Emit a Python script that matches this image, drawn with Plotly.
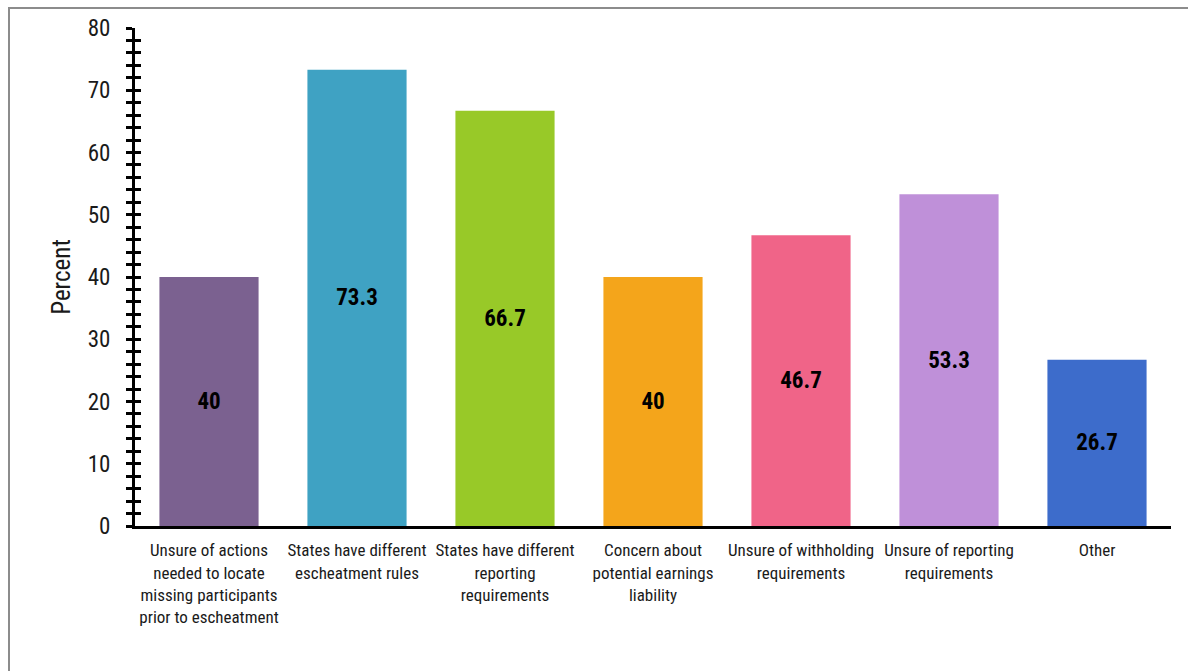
import plotly.graph_objects as go

categories = [
    "Unsure of actions<br>needed to locate<br>missing participants<br>prior to escheatment",
    "States have different<br>escheatment rules",
    "States have different<br>reporting<br>requirements",
    "Concern about<br>potential earnings<br>liability",
    "Unsure of withholding<br>requirements",
    "Unsure of reporting<br>requirements",
    "Other",
]
values = [40, 73.3, 66.7, 40, 46.7, 53.3, 26.7]
labels = ["40", "73.3", "66.7", "40", "46.7", "53.3", "26.7"]
colors = ["#7B6190", "#3FA2C3", "#98C928", "#F4A51B", "#F06488", "#BF90D9", "#3D6CCB"]
y_ticks = [0, 10, 20, 30, 40, 50, 60, 70, 80]

W, H = 1188, 671
ML, MR, MT, MB = 135, 17, 28, 145
PW, PH = W - ML - MR, H - MT - MB

font_main = "Roboto Condensed, Liberation Sans Narrow, Roboto, sans-serif"

fig = go.Figure()
fig.add_trace(go.Bar(
    x=categories, y=values, text=labels,
    marker=dict(color=colors, line=dict(width=0)),
    textposition="inside", insidetextanchor="middle", textangle=0,
    constraintext="none",
    textfont=dict(family=font_main, size=23, color="black", weight="bold"),
    hoverinfo="skip",
))
fig.add_trace(go.Scatter(x=[], y=[], yaxis="y2", showlegend=False))

def px_to_paper_x(px):
    return (px - ML) / PW

def px_to_paper_y(py):
    return (H - MB - py) / PH

fig.update_layout(
    width=W, height=H,
    margin=dict(l=ML, r=MR, t=MT, b=MB, pad=0, autoexpand=False),
    paper_bgcolor="white", plot_bgcolor="white",
    showlegend=False,
    bargap=0.33,
    font=dict(family=font_main, color="#1a1a1a"),
    xaxis=dict(
        showline=True, linecolor="black", linewidth=3,
        ticks="", showgrid=False, zeroline=False,
        tickangle=0, automargin=False,
        tickfont=dict(size=17, color="#1a1a1a"),
        ticklabelstandoff=7,
    ),
    yaxis=dict(
        range=[0, 80], tickvals=y_ticks, ticktext=[str(v) for v in y_ticks],
        showline=True, linecolor="black", linewidth=3,
        ticks="outside", ticklen=6, tickwidth=3, tickcolor="black",
        minor=dict(ticks="outside", dtick=2, ticklen=6, tickwidth=3, tickcolor="black"),
        showgrid=False, zeroline=False, automargin=False,
        tickfont=dict(size=23, color="#1a1a1a"),
        ticklabelstandoff=11,
        title=dict(text="Percent", font=dict(size=25, color="#1a1a1a"), standoff=10),
    ),
    yaxis2=dict(
        range=[0, 80], overlaying="y", side="left", anchor="x",
        tickvals=y_ticks, showticklabels=False, showline=False,
        ticks="inside", ticklen=6, tickwidth=3, tickcolor="black",
        minor=dict(ticks="inside", dtick=2, ticklen=6, tickwidth=3, tickcolor="black"),
        showgrid=False, zeroline=False, automargin=False,
    ),
    shapes=[
        dict(type="line", xref="paper", yref="paper",
             x0=px_to_paper_x(8), x1=px_to_paper_x(W + 5),
             y0=px_to_paper_y(8), y1=px_to_paper_y(8),
             line=dict(color="#8c8c8c", width=2)),
        dict(type="line", xref="paper", yref="paper",
             x0=px_to_paper_x(9), x1=px_to_paper_x(9),
             y0=px_to_paper_y(8), y1=px_to_paper_y(H + 5),
             line=dict(color="#8c8c8c", width=2)),
    ],
)

fig.write_html("out.html")
